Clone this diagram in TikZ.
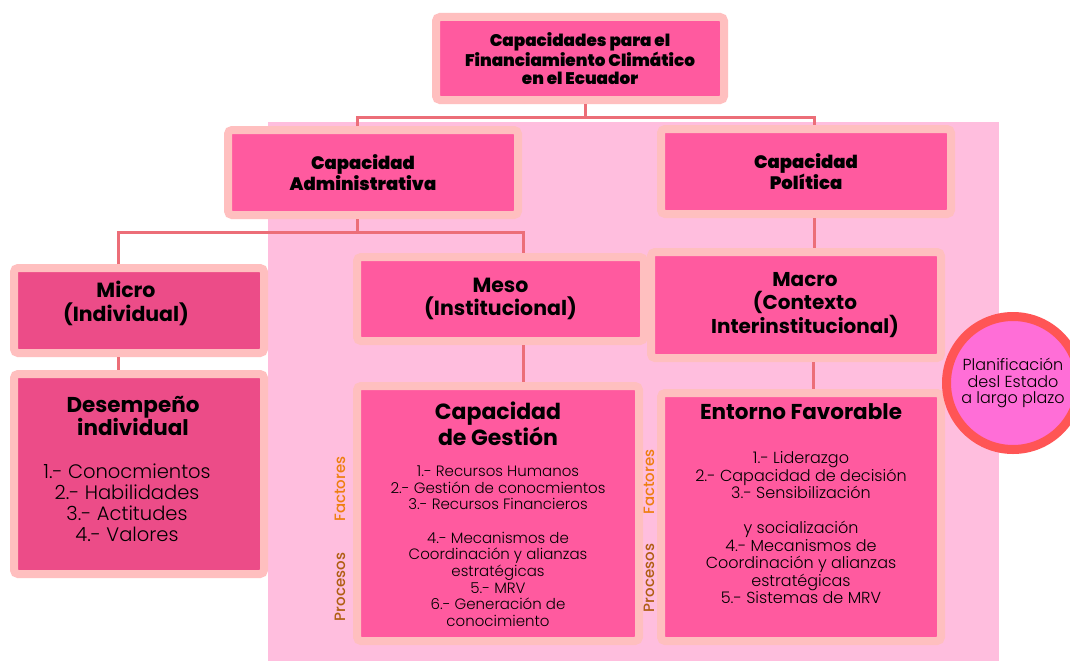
\documentclass[tikz,border=0pt]{standalone}
\usepackage{fontspec}
\setmainfont{Poppins}
\IfFontExistsTF{Poppins Black}{\newfontfamily\schwerfont{Poppins Black}}{%
	\IfFontExistsTF{Poppins ExtraBold}{\newfontfamily\schwerfont{Poppins ExtraBold}}{\newcommand\schwerfont{\bfseries}}}
\IfFontExistsTF{Poppins Light}{\newfontfamily\leichtfont{Poppins Light}}{\newcommand\leichtfont{\normalfont}}
\IfFontExistsTF{Poppins Medium}{\newfontfamily\mittelfont{Poppins Medium}}{\newcommand\mittelfont{\normalfont}}
\usepackage{tikz}
\usetikzlibrary{positioning}
\definecolor{rosa}{HTML}{FF5A9F}
\definecolor{rosadunkel}{HTML}{EC4C88}
\definecolor{rahmen}{HTML}{FFBFBF}
\definecolor{flaeche}{HTML}{FFBEDE}
\definecolor{linienrot}{HTML}{EC6E78}
\definecolor{kreisrosa}{HTML}{FF6ED7}
\definecolor{kreisrot}{HTML}{FF5555}
\definecolor{faktororange}{HTML}{EE7F10}
\definecolor{prozessbraun}{HTML}{B05E12}

\begin{document}
\begin{tikzpicture}[x=1pt, y=-1pt,
		kasten/.style={draw=rahmen, line width=8pt, rounded corners=4pt, fill=rosa, inner sep=0, align=center},
		kastendunkel/.style={kasten, fill=rosadunkel},
		schwer/.style={font=\schwerfont\fontsize{16.8}{18.3}\selectfont, align=center, inner sep=0},
		titel/.style={font=\bfseries\fontsize{20.5}{23.4}\selectfont, align=center, inner sep=0},
		grosstitel/.style={titel, font=\bfseries\fontsize{21.5}{23.4}\selectfont},
		liste/.style={align=center, inner sep=0},
		seitlich/.style={rotate=90, inner sep=0, font=\mittelfont\fontsize{15}{16}\selectfont},
		linie/.style={draw=linienrot, line width=3pt},
		kreis/.style={circle, draw=kreisrot, line width=9pt, fill=kreisrosa, inner sep=0, minimum size=133pt, align=center, font=\leichtfont\fontsize{16}{16.5}\selectfont}]
		\clip (0,0) rectangle (1070,661);
		\useasboundingbox (0,0) rectangle (1070,661);
		\fill[white] (0,0) rectangle (1070,661);
		\fill[flaeche] (268,122) rectangle (999,661);
		
		% nodes
		\node[kasten, schwer, minimum width=288pt, minimum height=83pt] (oben) at (580,58.5) 
		{Capacidades para el\\Financiamiento Climático\\en el Ecuador};
		\node[kasten, minimum width=290pt, minimum height=85pt] (admin) at (373,172.5) {};
		\node[schwer, font=\schwerfont\fontsize{18}{19.5}\selectfont] (admintext) at ([xshift=-10pt]admin.center) 
		{Capacidad\\Administrativa};
		\node[kasten, schwer, font=\schwerfont\fontsize{18}{19.5}\selectfont, minimum width=290pt, minimum height=85pt] (politica) at (806,171.5) 
		{Capacidad\\Política};
		
		\node[kastendunkel, minimum width=250pt, minimum height=85pt] (micro) at (139,310.5) {};
		\node[titel] (microtext) at ([xshift=-13pt, yshift=7pt]micro.center) {Micro\\(Individual)};
		\node[kastendunkel, minimum width=250pt, minimum height=200pt] (desempeno) at (139,474) {};
		\node[grosstitel, below=26pt of desempeno.north, xshift=-6pt] (desempenotitel) {Desempeño\\individual};
		\node[liste, font=\leichtfont\fontsize{19.5}{21}\selectfont, below=27pt of desempenotitel, xshift=-6pt] (desempenoliste) 
		{1.- Conocmientos\\2.- Habilidades\\3.- Actitudes\\4.- Valores};
		
		\node[kasten, titel, minimum width=287pt, minimum height=84pt] (meso) at (500.5,299) 
		{Meso\\(Institucional)};
		\node[kasten, minimum width=290pt, minimum height=106pt] (macro) at (796,305) {};
		\node[titel, font=\bfseries\fontsize{20}{23.5}\selectfont] (macrotext) at ([xshift=9pt]macro.center) 
		{Macro\\(Contexto\\Interinstitucional)};
		
		\node[kasten, minimum width=282pt, minimum height=255pt] (gestion) at (498,513.5) {};
		\node[grosstitel, font=\bfseries\fontsize{22}{23.4}\selectfont, below=20pt of gestion.north] (gestiontitel) {Capacidad\\de Gestión};
		\node[liste, font=\leichtfont\fontsize{15}{16.7}\selectfont, below=20pt of gestiontitel] (gestionliste) 
		{1.- Recursos Humanos\\2.- Gestión de conocmientos\\3.- Recursos Financieros\\[16.7pt]
			4.- Mecanismos de\\Coordinación y alianzas\\estratégicas\\5.- MRV\\6.- Generación de\\conocimiento};
		
		\node[kasten, minimum width=280pt, minimum height=248pt] (entorno) at (801,517) {};
		\node[grosstitel, below=14pt of entorno.north] (entornotitel) {Entorno Favorable};
		\node[liste, font=\leichtfont\fontsize{16}{17.5}\selectfont, below=32pt of entornotitel] (entornoliste) 
		{1.- Liderazgo\\2.- Capacidad de decisión\\3.- Sensibilización\\[17.5pt]
			y socialización\\4.- Mecanismos de\\Coordinación y alianzas\\estratégicas\\5.- Sistemas de MRV};
		
		\node[seitlich, text=faktororange] (faktorengestion) at (340,489) {Factores};
		\node[seitlich, text=prozessbraun] (prozessegestion) at (340,587) {Procesos};
		\node[seitlich, text=faktororange] (faktorenentorno) at (649,482) {Factores};
		\node[seitlich, text=prozessbraun] (prozesseentorno) at (649,578) {Procesos};
		
		\node[kreis] (planung) at (1013,383) {Planificación\\desl Estado\\a largo plazo};
		
		% connectors
		\coordinate (ast1) at (585,117);
		\coordinate (ast2) at (357,232);
		\draw[linie] (oben.south -| ast1) -- (ast1);
		\draw[linie] ([xshift=-16pt]admin.north) |- ([xshift=8pt]politica.north |- ast1) -- ([xshift=8pt]politica.north);
		\draw[linie] (admin.south -| ast2) -- (ast2);
		\draw[linie] ([xshift=-21pt]micro.north) |- ([xshift=22.5pt]meso.north |- ast2) -- ([xshift=22.5pt]meso.north);
		\draw[linie] ([xshift=-21pt]micro.south) -- ([xshift=-21pt]micro.south |- desempeno.north);
		\draw[linie] ([xshift=22.5pt]meso.south) -- ([xshift=22.5pt]meso.south |- gestion.north);
		\draw[linie] ([xshift=8pt]politica.south) -- ([xshift=8pt]politica.south |- macro.north);
		\draw[linie] ([xshift=17pt]macro.south) -- ([xshift=17pt]macro.south |- entorno.north);
\end{tikzpicture}
\end{document}
